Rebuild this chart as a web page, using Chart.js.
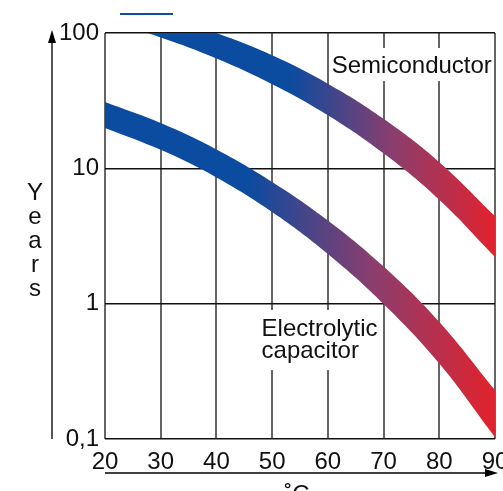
<!DOCTYPE html>
<html lang="en">
<head>
    <meta charset="UTF-8">
    <title>Lifetime vs temperature</title>
    <script src="https://cdn.jsdelivr.net/npm/chart.js"></script>
    <style>
        body { margin: 0; background: #fff; }
    </style>
</head>
<body>
    <canvas id="lifeChart" width="503" height="491"></canvas>

    <script>
        // Temperatures (deg C) and the band edges in years
        const temps = [20, 30, 40, 50, 60, 70, 80, 90];
        const semiUpper = [170, 135, 100, 68.4, 42.2, 23.2, 11.1, 4.44];
        const semiLower = [125, 92.7, 64.9, 41.9, 24.7, 12.9, 5.85, 2.21];
        const elcoUpper = [30.9, 21.6, 13.8, 7.94, 4.12, 1.88, 0.733, 0.23];
        const elcoLower = [19.9, 13.7, 8.57, 4.76, 2.33, 0.995, 0.361, 0.103];

        const xTicks = [20, 30, 40, 50, 60, 70, 80, 90];
        const yTicks = [0.1, 1, 10, 100];
        const yTickLabels = { 0.1: '0,1', 1: '1', 10: '10', 100: '100' };

        const FONT = "'Liberation Sans', Arial, sans-serif";
        const BLUE = '#0b4ba0';
        const PURPLE = '#8a3e6e';
        const RED = '#e2222d';

        // horizontal gradient: blue until `from`, red at 90
        function bandFill(from) {
            return (context) => {
                const chart = context.chart;
                if (!chart.chartArea) return BLUE;
                const xs = chart.scales.x;
                const g = chart.ctx.createLinearGradient(xs.getPixelForValue(from), 0, xs.getPixelForValue(90), 0);
                g.addColorStop(0, BLUE);
                g.addColorStop(0.5, PURPLE);
                g.addColorStop(1, RED);
                return g;
            };
        }

        function edge(values, fill, color) {
            return {
                data: temps.map((t, i) => ({ x: t, y: values[i] })),
                fill: fill,
                backgroundColor: color,
                borderWidth: 0,
                borderColor: 'rgba(0,0,0,0)',
                pointRadius: 0,
                tension: 0.4
            };
        }

        // axis titles, arrows and curve labels
        const decor = {
            id: 'decor',
            afterDraw(chart) {
                const c = chart.ctx;
                const area = chart.chartArea;
                const xs = chart.scales.x, ys = chart.scales.y;
                c.save();

                // small blue stroke above the plot
                c.strokeStyle = '#0b4ea2';
                c.lineWidth = 2;
                c.beginPath();
                c.moveTo(area.left + 15, 14);
                c.lineTo(area.left + 68, 14);
                c.stroke();

                // y arrow
                const ax = area.left - 53;
                c.strokeStyle = '#555';
                c.lineWidth = 2;
                c.beginPath();
                c.moveTo(ax, area.bottom);
                c.lineTo(ax, area.top + 6);
                c.stroke();
                c.fillStyle = '#000';
                c.beginPath();
                c.moveTo(ax, area.top - 3);
                c.lineTo(ax - 4, area.top + 10);
                c.lineTo(ax + 4, area.top + 10);
                c.closePath();
                c.fill();

                // x arrow
                const ay = area.bottom + 34;
                c.strokeStyle = '#000';
                c.lineWidth = 1.5;
                c.beginPath();
                c.moveTo(area.left, ay);
                c.lineTo(area.right - 4, ay);
                c.stroke();
                c.beginPath();
                c.moveTo(area.right + 3, ay);
                c.lineTo(area.right - 10, ay - 4);
                c.lineTo(area.right - 10, ay + 4);
                c.closePath();
                c.fill();

                c.fillStyle = '#111';
                c.font = '24px ' + FONT;
                c.textAlign = 'center';
                c.textBaseline = 'alphabetic';
                'Years'.split('').forEach((ch, i) => c.fillText(ch, 35, 200 + i * 24));
                c.fillText('˚C', (area.left + area.right) / 2 - 3, 502);

                // curve labels with white boxes
                c.textAlign = 'left';
                const sx = xs.getPixelForValue(60.7), sy = ys.getPixelForValue(50.6);
                c.fillStyle = '#fff';
                c.fillRect(sx - 1, sy - 25, area.right - sx, 33);
                c.fillStyle = '#111';
                c.fillText('Semiconductor', sx, sy);

                const ex = xs.getPixelForValue(48.1), ey = ys.getPixelForValue(0.577);
                c.fillStyle = '#fff';
                c.fillRect(ex - 2, ey - 26, 120, 60);
                c.fillStyle = '#111';
                c.fillText('Electrolytic', ex, ey);
                c.fillText('capacitor', ex, ey + 22);
                c.restore();
            }
        };

        const ctx = document.getElementById('lifeChart').getContext('2d');
        new Chart(ctx, {
            type: 'line',
            data: {
                datasets: [
                    edge(semiUpper, '+1', bandFill(53.2)),
                    edge(semiLower, false, 'rgba(0,0,0,0)'),
                    edge(elcoUpper, '+1', bandFill(45.7)),
                    edge(elcoLower, false, 'rgba(0,0,0,0)')
                ]
            },
            options: {
                responsive: false,
                animation: false,
                layout: { padding: { top: 33, right: 8, left: 0, bottom: 0 } },
                plugins: {
                    legend: { display: false },
                    tooltip: { enabled: false }
                },
                scales: {
                    x: {
                        type: 'linear',
                        min: 20,
                        max: 90,
                        afterBuildTicks: (scale) => { scale.ticks = xTicks.map(v => ({ value: v })); },
                        afterFit: (scale) => {
                            scale.height = 52;
                            scale.paddingLeft = 0;
                            scale.paddingRight = 0;
                        },
                        grid: { color: '#666', lineWidth: 2, drawTicks: false },
                        border: { display: false },
                        ticks: {
                            padding: 9,
                            maxRotation: 0,
                            color: '#111',
                            font: { family: FONT, size: 24 }
                        }
                    },
                    y: {
                        type: 'logarithmic',
                        min: 0.1,
                        max: 100,
                        afterBuildTicks: (scale) => { scale.ticks = yTicks.map(v => ({ value: v })); },
                        afterFit: (scale) => { scale.width = 105; },
                        grid: { color: '#111', lineWidth: 1.5, drawTicks: false },
                        border: { display: false },
                        ticks: {
                            padding: 6,
                            color: '#111',
                            font: { family: FONT, size: 24 },
                            callback: (v) => yTickLabels[v] || ''
                        }
                    }
                }
            },
            plugins: [decor]
        });
    </script>
</body>
</html>
